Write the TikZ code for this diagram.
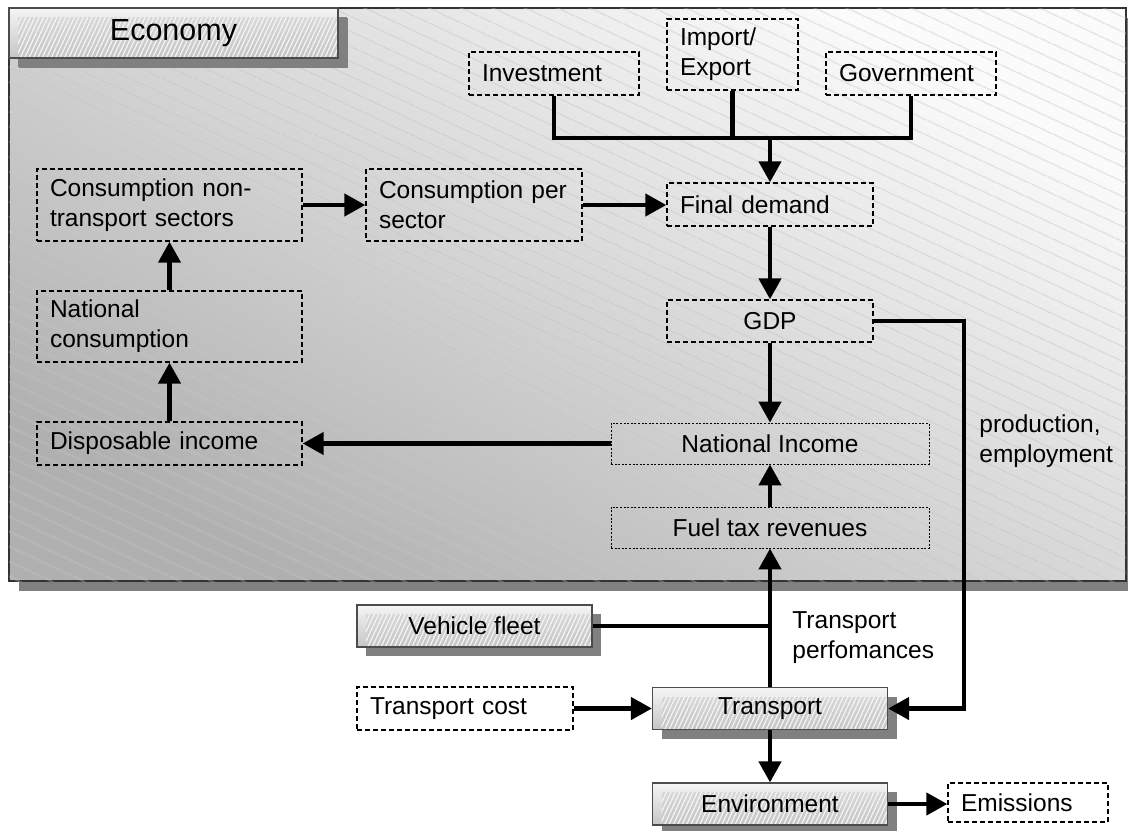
\documentclass[tikz,border=0pt]{standalone}
\usepackage{fontspec}
\setmainfont{Liberation Sans}
\usetikzlibrary{arrows.meta}
\usetikzlibrary{shadows}
\usetikzlibrary{patterns.meta}
\newcommand\diagfont{\fontsize{12.25}{15}\selectfont}
\newcommand\titlefont{\fontsize{15.25}{18}\selectfont}
\tikzset{x=0.5pt, y=-0.5pt,
 dashbox/.style={draw, line width=0.7pt, dash pattern=on 2.5pt off 1.5pt,
   inner xsep=6.5pt, inner ysep=0pt, align=left, font=\diagfont},
 dotbox/.style={draw, line width=0.4pt, dash pattern=on 1pt off 0.8pt,
   minimum width=159pt, minimum height=20.5pt, inner sep=0pt, font=\diagfont},
 solidbox/.style={draw=black!70, line width=0.6pt, top color=gray!8, bottom color=gray!45,
   minimum width=117.5pt, minimum height=21pt, inner sep=0pt, font=\diagfont,
   drop shadow={shadow xshift=4.5pt, shadow yshift=-4.5pt, fill=gray, opacity=1},
   path picture={
     \fill[gray!45, opacity=0.5] ([shift={(4.5pt,-4.5pt)}]path picture bounding box.north west)
       rectangle (path picture bounding box.south east);
     \fill[pattern={Lines[angle=65,distance=2pt,line width=0.6pt]}, pattern color=white!92!gray]
       ([shift={(4.5pt,-4.5pt)}]path picture bounding box.north west)
       rectangle (path picture bounding box.south east);}},
 econbox/.style={draw=black!80, line width=0.8pt, inner sep=0pt,
   top color=gray!3, bottom color=gray!62, shading angle=-30,
   drop shadow={shadow xshift=5pt, shadow yshift=-5pt, fill=gray, opacity=1},
   postaction={pattern={Lines[angle=-25,distance=6.5pt,line width=0.3pt]}, pattern color=gray!50}},
 link/.style={line width=2.2pt},
 arr/.style={link, -{Triangle[length=10.5pt,width=11pt]}},
 label/.style={font=\diagfont, align=left, anchor=west, inner sep=0pt},
}
\begin{document}
\begin{tikzpicture}
    \fill[white] (0,0) rectangle (1128,830);
    \useasboundingbox (0,0) rectangle (1128,830);
    \node[econbox, minimum width=558.5pt, minimum height=286.5pt] (econ) at (567.5,294.5) {};
    \node[solidbox, minimum width=164.5pt, minimum height=25pt, font=\titlefont,
      drop shadow={shadow xshift=5pt, shadow yshift=-5pt, fill=gray, opacity=1}] (title) at (173.5,33) {Economy};

    \node[dashbox, text width=72pt, minimum height=21.5pt] (inv) at (554,73.5) {Investment};
    \node[dashbox, text width=52.5pt, minimum height=35.5pt] (impexp) at (732.5,54.5) {Import/\\Export};
    \node[dashbox, text width=72pt, minimum height=21.5pt] (gov) at (911,73.5) {Government};
    \node[dashbox, text width=90pt, minimum height=21.5pt] (findem) at (770,204.5) {Final demand};
    \node[dashbox, text width=95pt, minimum height=36pt] (conssec) at (474,205) {Consumption per\\sector};
    \node[dashbox, text width=119.5pt, minimum height=36pt] (consnt) at (169.5,205) {Consumption non-\\transport sectors};
    \node[dashbox, text width=119.5pt, minimum height=35.5pt] (natcons) at (169.5,326.5) {National\\consumption};
    \node[dashbox, text width=119.5pt, minimum height=21.5pt] (dispinc) at (169.5,443.5) {Disposable income};
    \node[dashbox, text width=90pt, minimum height=21pt, align=center] (gdp) at (770,321) {GDP};
    \node[dotbox] (natinc) at (770,443.5) {National Income};
    \node[dotbox] (fueltax) at (770,527.5) {Fuel tax revenues};

    \node[solidbox] (fleet) at (474.5,626) {Vehicle fleet};
    \node[dashbox, text width=95pt, minimum height=21.5pt] (tcost) at (465,708.5) {Transport cost};
    \node[solidbox] (transp) at (770,708.5) {Transport};
    \node[solidbox] (env) at (770,804) {Environment};
    \node[dashbox, text width=67pt, minimum height=19.5pt] (emis) at (1028,802.5) {Emissions};

    \node[label] (perf) at (792,637.5) {Transport\\perfomances};
    \node[label] (prodemp) at (979,441) {production,\\employment};

    \coordinate (bus) at (770,138);
    \draw[link] (inv.south) |- (bus) -| (gov.south);
    \draw[link] (impexp.south) -- (impexp.south |- bus);
    \draw[arr] (bus) -- (findem.north);
    \draw[arr] (consnt.east) -- (conssec.west);
    \draw[arr] (conssec.east) -- (conssec.east -| findem.west);
    \draw[arr] (findem.south) -- (gdp.north);
    \draw[arr] (gdp.south) -- (natinc.north);
    \draw[arr] (gdp.east) -- ++(90,0) |- (transp.east);
    \draw[arr] (natinc.west) -- (dispinc.east);
    \draw[arr] (dispinc.north) -- (natcons.south);
    \draw[arr] (natcons.north) -- (consnt.south);
    \draw[arr] (fueltax.north) -- (natinc.south);
    \draw[arr] (transp.north) -- (fueltax.south);
    \draw[link] (fleet.east) -- (fleet.east -| transp.north);
    \draw[arr] (tcost.east) -- (transp.west);
    \draw[arr] (transp.south) -- (env.north);
    \draw[arr] (env.east) -- (env.east -| emis.west);
\end{tikzpicture}
\end{document}
